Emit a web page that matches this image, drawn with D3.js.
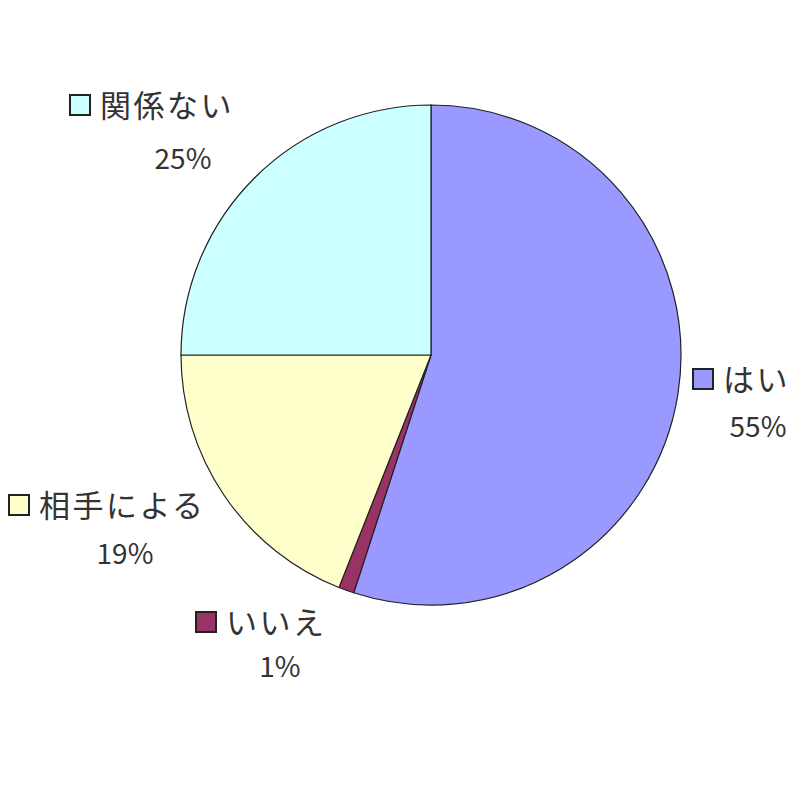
<!DOCTYPE html>
<html><head><meta charset="utf-8">
<script src="https://cdn.jsdelivr.net/npm/d3@7"></script>
<style>body{margin:0;background:#fff}</style>
</head><body>
<svg id="c" width="800" height="800"></svg>
<script>
const categories = ["はい","いいえ","相手による","関係ない"];
const values = [55, 1, 19, 25];
const labels = ["55%","1%","19%","25%"];
const colors = ["#9999FF","#993366","#FFFFCC","#CCFFFF"];

const svg = d3.select("#c");
const cx = 431, cy = 355, r = 250;
const pie = d3.pie().sort(null).value(d => d)(values);
const arc = d3.arc().innerRadius(0).outerRadius(r);
const g = svg.append("g").attr("transform", `translate(${cx},${cy})`);
g.selectAll("path").data(pie).join("path")
  .attr("d", arc)
  .attr("fill", (d,i) => colors[i])
  .attr("stroke", "#222").attr("stroke-width", 1.2);

const labelPos = [
  {sx:693, sy:369, px:758, py:437},
  {sx:196, sy:612, px:280, py:677},
  {sx:9,   sy:495, px:125, py:564},
  {sx:70,  sy:95,  px:183, py:169}
];
const font = "'Noto Sans CJK JP', sans-serif";
labelPos.forEach((p,i) => {
  svg.append("rect").attr("x", p.sx).attr("y", p.sy).attr("width", 20).attr("height", 20)
    .attr("fill", colors[i]).attr("stroke", "#222").attr("stroke-width", 2);
  svg.append("text").attr("x", p.sx + 30).attr("y", p.sy + 22)
    .attr("font-family", font).attr("font-size", 31).attr("letter-spacing", 2.5).attr("fill", "#333")
    .text(categories[i]);
  svg.append("text").attr("x", p.px).attr("y", p.py).attr("text-anchor", "middle")
    .attr("font-family", font).attr("font-size", 28).attr("fill", "#333")
    .text(labels[i]);
});
</script>
</body></html>
